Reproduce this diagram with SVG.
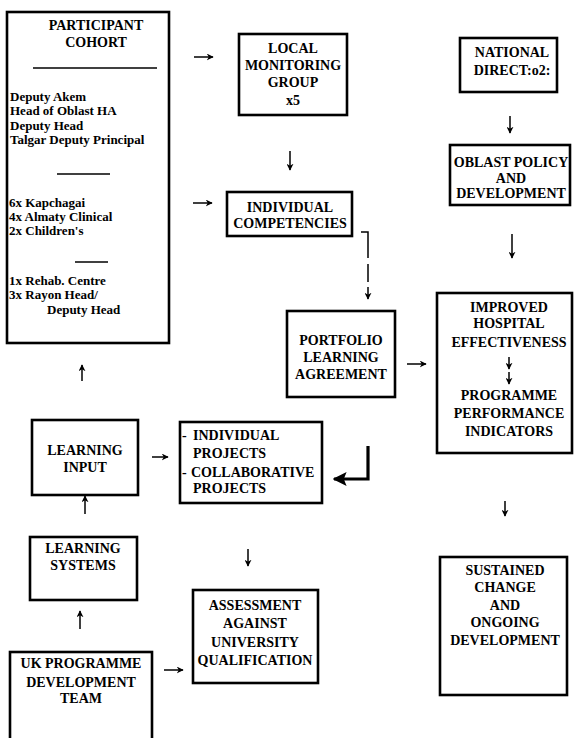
<svg xmlns="http://www.w3.org/2000/svg" width="574" height="738" viewBox="0 0 574 738">
<defs>
<style>
.box{fill:#fff;stroke:#000;stroke-width:2.6}
.t{font-family:"Liberation Serif","Times New Roman",serif;font-weight:bold;font-size:14px;fill:#000;text-anchor:middle}
.l{font-family:"Liberation Serif","Times New Roman",serif;font-weight:bold;font-size:13px;fill:#000}
.rule{stroke:#000;stroke-width:1.4}
.c{fill:none;stroke:#000;stroke-width:1.5;marker-end:url(#a)}
</style>
<marker id="a" viewBox="0 0 10 10" refX="9" refY="5" markerWidth="7" markerHeight="7" markerUnits="userSpaceOnUse" orient="auto">
<path d="M0,0 L10,5 L0,10 L3,5 z" fill="#000"/>
</marker>
<marker id="b" viewBox="0 0 10 10" refX="9" refY="5" markerWidth="14" markerHeight="14" markerUnits="userSpaceOnUse" orient="auto">
<path d="M0,0 L10,5 L0,10 L2,5 z" fill="#000"/>
</marker>
</defs>
<rect width="574" height="738" fill="#fff"/>

<g id="participant-cohort">
<rect class="box" x="7" y="12" width="162" height="331"/>
<text class="t" x="96" y="30">PARTICIPANT</text>
<text class="t" x="96" y="47">COHORT</text>
<line class="rule" x1="33" y1="68" x2="157" y2="68"/>
<text class="l" x="10" y="101">Deputy Akem</text>
<text class="l" x="10" y="115">Head of Oblast HA</text>
<text class="l" x="10" y="130">Deputy Head</text>
<text class="l" x="10" y="144">Talgar Deputy Principal</text>
<line class="rule" x1="57" y1="174" x2="110" y2="174"/>
<text class="l" x="9" y="207">6x Kapchagai</text>
<text class="l" x="9" y="221">4x Almaty Clinical</text>
<text class="l" x="9" y="235">2x Children's</text>
<line class="rule" x1="75" y1="262" x2="108" y2="262"/>
<text class="l" x="9" y="285">1x Rehab. Centre</text>
<text class="l" x="9" y="299">3x Rayon Head/</text>
<text class="l" x="47" y="314">Deputy Head</text>
</g>

<g id="local-monitoring-group">
<rect class="box" x="239" y="34" width="108" height="81"/>
<text class="t" x="293" y="53">LOCAL</text>
<text class="t" x="293" y="70">MONITORING</text>
<text class="t" x="293" y="87">GROUP</text>
<text class="t" x="293" y="105">x5</text>
</g>

<g id="national-direct">
<rect class="box" x="460" y="38" width="97" height="54"/>
<text class="t" x="512" y="57">NATIONAL</text>
<text class="t" x="512" y="75">DIRECT:o2:</text>
</g>

<g id="oblast-policy">
<rect class="box" x="450" y="145" width="120" height="60"/>
<text class="t" x="511" y="167">OBLAST POLICY</text>
<text class="t" x="511" y="183">AND</text>
<text class="t" x="511" y="198">DEVELOPMENT</text>
</g>

<g id="individual-competencies">
<rect class="box" x="227" y="192" width="125" height="44"/>
<text class="t" x="290" y="212">INDIVIDUAL</text>
<text class="t" x="290" y="228">COMPETENCIES</text>
</g>

<g id="portfolio">
<rect class="box" x="287" y="311" width="108" height="86"/>
<text class="t" x="341" y="345">PORTFOLIO</text>
<text class="t" x="341" y="362">LEARNING</text>
<text class="t" x="341" y="379">AGREEMENT</text>
</g>

<g id="improved-hospital">
<rect class="box" x="437" y="293" width="135" height="160"/>
<text class="t" x="509" y="312">IMPROVED</text>
<text class="t" x="509" y="328">HOSPITAL</text>
<text class="t" x="509" y="347">EFFECTIVENESS</text>
<line class="c" x1="509" y1="357" x2="509" y2="369"/>
<line class="c" x1="509" y1="372" x2="509" y2="384"/>
<text class="t" x="509" y="400">PROGRAMME</text>
<text class="t" x="509" y="418">PERFORMANCE</text>
<text class="t" x="509" y="436">INDICATORS</text>
</g>

<g id="learning-input">
<rect class="box" x="32" y="420" width="106" height="75"/>
<text class="t" x="85" y="455">LEARNING</text>
<text class="t" x="85" y="472">INPUT</text>
</g>

<g id="projects">
<rect class="box" x="180" y="422" width="142" height="81"/>
<text class="l" x="182" y="440" style="font-size:14px">-</text>
<text class="l" x="193" y="440" style="font-size:14px">INDIVIDUAL</text>
<text class="l" x="193" y="458" style="font-size:14px">PROJECTS</text>
<text class="l" x="182" y="477" style="font-size:14px">-</text>
<text class="l" x="191" y="477" style="font-size:14px">COLLABORATIVE</text>
<text class="l" x="193" y="493" style="font-size:14px">PROJECTS</text>
</g>

<g id="learning-systems">
<rect class="box" x="30" y="537" width="107" height="63"/>
<text class="t" x="83" y="553">LEARNING</text>
<text class="t" x="83" y="570">SYSTEMS</text>
</g>

<g id="uk-programme">
<rect class="box" x="10" y="652" width="142" height="100"/>
<text class="t" x="81" y="668">UK PROGRAMME</text>
<text class="t" x="81" y="687">DEVELOPMENT</text>
<text class="t" x="81" y="703">TEAM</text>
</g>

<g id="assessment">
<rect class="box" x="193" y="590" width="125" height="93"/>
<text class="t" x="255" y="610">ASSESSMENT</text>
<text class="t" x="255" y="628">AGAINST</text>
<text class="t" x="255" y="647">UNIVERSITY</text>
<text class="t" x="255" y="665">QUALIFICATION</text>
</g>

<g id="sustained-change">
<rect class="box" x="440" y="557" width="127" height="138"/>
<text class="t" x="505" y="575">SUSTAINED</text>
<text class="t" x="505" y="592">CHANGE</text>
<text class="t" x="505" y="610">AND</text>
<text class="t" x="505" y="627">ONGOING</text>
<text class="t" x="505" y="645">DEVELOPMENT</text>
</g>

<g id="connectors">
<line class="c" x1="194" y1="57" x2="213" y2="57"/>
<line class="c" x1="193" y1="203" x2="212" y2="203"/>
<line class="c" x1="290" y1="151" x2="290" y2="170"/>
<path d="M361,232 L368,232 L368,299" fill="none" stroke="#000" stroke-width="1.5" stroke-dasharray="33,6,18,5,100" marker-end="url(#a)"/>
<line class="c" x1="407" y1="364" x2="426" y2="364"/>
<line class="c" x1="510" y1="116" x2="510" y2="133"/>
<line class="c" x1="512" y1="234" x2="512" y2="258"/>
<line class="c" x1="505" y1="501" x2="505" y2="516"/>
<line class="c" x1="82" y1="381" x2="82" y2="365"/>
<line class="c" x1="152" y1="457" x2="168" y2="457"/>
<path d="M368,446 L368,479 L334,479" fill="none" stroke="#000" stroke-width="3.2" marker-end="url(#b)"/>
<line class="c" x1="85" y1="514" x2="85" y2="496"/>
<line class="c" x1="80" y1="629" x2="80" y2="611"/>
<line class="c" x1="164" y1="670" x2="183" y2="670"/>
<line class="c" x1="248" y1="549" x2="248" y2="566"/>
</g>
</svg>
